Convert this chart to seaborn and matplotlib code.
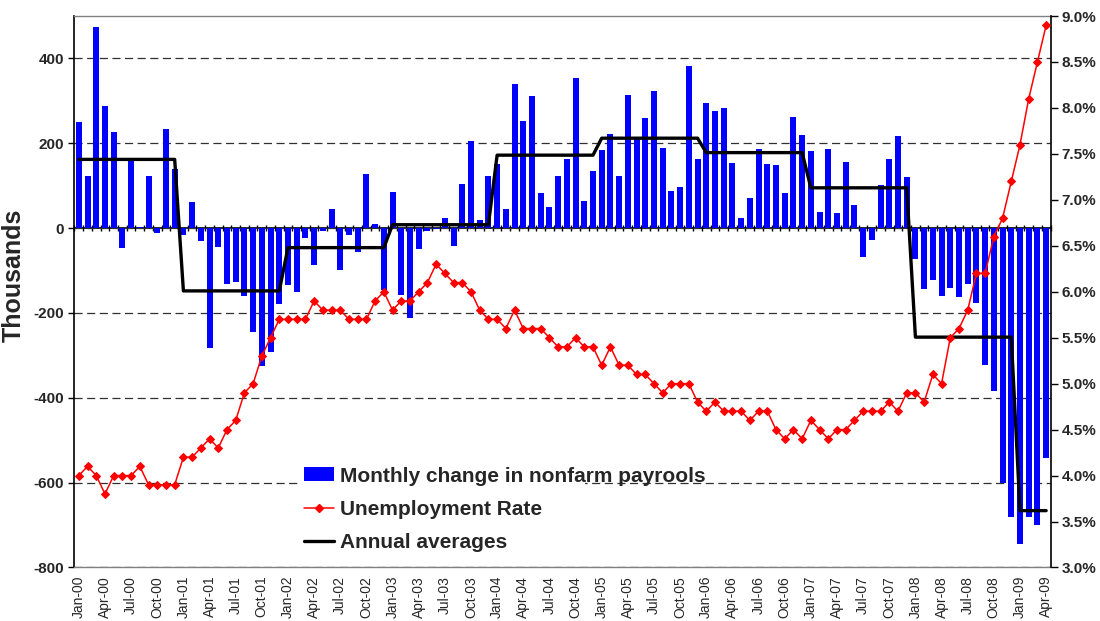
import numpy as np
import pandas as pd
import matplotlib
matplotlib.use('Agg')
import matplotlib.pyplot as plt
import seaborn as sns
from matplotlib.patches import Patch, Rectangle
from matplotlib.lines import Line2D
from matplotlib.ticker import FuncFormatter, MultipleLocator

# ---------------- data ----------------
month_names = ['Jan', 'Feb', 'Mar', 'Apr', 'May', 'Jun',
               'Jul', 'Aug', 'Sep', 'Oct', 'Nov', 'Dec']
years = ['00', '01', '02', '03', '04', '05', '06', '07', '08', '09']
months = [f'{m}-{y}' for y in years for m in month_names][:112]

payrolls_2000 = [249, 122, 474, 287, 226, -47, 161, 3, 122, -12, 233, 139]
payrolls_2001 = [-17, 61, -31, -283, -45, -131, -126, -161, -246, -325, -293, -180]
payrolls_2002 = [-133, -150, -24, -87, -7, 46, -99, -17, -57, 127, 9, -145]
payrolls_2003 = [84, -158, -213, -50, -7, -2, 25, -43, 103, 205, 18, 124]
payrolls_2004 = [150, 44, 339, 252, 311, 82, 49, 122, 162, 353, 65, 134]
payrolls_2005 = [183, 221, 122, 313, 211, 259, 323, 190, 87, 98, 382, 162]
payrolls_2006 = [294, 275, 283, 153, 25, 70, 186, 150, 148, 82, 261, 219]
payrolls_2007 = [181, 37, 186, 35, 157, 54, -67, -28, 101, 164, 216, 120]
payrolls_2008 = [-73, -144, -123, -161, -140, -163, -131, -177, -323, -383, -600, -682]
payrolls_2009 = [-744, -682, -701, -541]

unemp_2000 = [4.0, 4.1, 4.0, 3.8, 4.0, 4.0, 4.0, 4.1, 3.9, 3.9, 3.9, 3.9]
unemp_2001 = [4.2, 4.2, 4.3, 4.4, 4.3, 4.5, 4.6, 4.9, 5.0, 5.3, 5.5, 5.7]
unemp_2002 = [5.7, 5.7, 5.7, 5.9, 5.8, 5.8, 5.8, 5.7, 5.7, 5.7, 5.9, 6.0]
unemp_2003 = [5.8, 5.9, 5.9, 6.0, 6.1, 6.3, 6.2, 6.1, 6.1, 6.0, 5.8, 5.7]
unemp_2004 = [5.7, 5.6, 5.8, 5.6, 5.6, 5.6, 5.5, 5.4, 5.4, 5.5, 5.4, 5.4]
unemp_2005 = [5.2, 5.4, 5.2, 5.2, 5.1, 5.1, 5.0, 4.9, 5.0, 5.0, 5.0, 4.8]
unemp_2006 = [4.7, 4.8, 4.7, 4.7, 4.7, 4.6, 4.7, 4.7, 4.5, 4.4, 4.5, 4.4]
unemp_2007 = [4.6, 4.5, 4.4, 4.5, 4.5, 4.6, 4.7, 4.7, 4.7, 4.8, 4.7, 4.9]
unemp_2008 = [4.9, 4.8, 5.1, 5.0, 5.5, 5.6, 5.8, 6.2, 6.2, 6.6, 6.8, 7.2]
unemp_2009 = [7.6, 8.1, 8.5, 8.9]

annual_averages = [162, -148, -46, 8, 172, 212, 178, 95, -257, -666]
months_per_year = [12, 12, 12, 12, 12, 12, 12, 12, 12, 4]

legend_labels = ['Monthly change in nonfarm payrools',
                 'Unemployment Rate',
                 'Annual averages']

payrolls = (payrolls_2000 + payrolls_2001 + payrolls_2002 + payrolls_2003 +
            payrolls_2004 + payrolls_2005 + payrolls_2006 + payrolls_2007 +
            payrolls_2008 + payrolls_2009)
unemployment = (unemp_2000 + unemp_2001 + unemp_2002 + unemp_2003 +
                unemp_2004 + unemp_2005 + unemp_2006 + unemp_2007 +
                unemp_2008 + unemp_2009)
idx = np.arange(len(months))
df = pd.DataFrame({
    'pos': idx,
    'month': months,
    'payrolls': payrolls,
    'unemployment': unemployment,
    'annual': np.repeat(annual_averages, months_per_year),
})

# ---------------- style ----------------
sns.set_style('white')
plt.rcParams['font.family'] = ['Liberation Sans', 'DejaVu Sans']
plt.rcParams['axes.unicode_minus'] = False

BLUE = '#0000FF'
RED = '#FF0000'

fig = plt.figure(figsize=(11, 6.21), dpi=100)
ax = fig.add_axes([0.0673, 0.0862, 0.8877, 0.888])

sns.barplot(data=df, x='pos', y='payrolls', native_scale=True, color=BLUE,
            saturation=1, width=0.68, ax=ax, zorder=2, linewidth=0)
sns.lineplot(data=df, x='pos', y='annual', color='black', lw=2.4, ax=ax,
             zorder=3)

ymin, ymax = -800, 500
ax.set_xlim(-0.55, 111.5)
ax.set_ylim(ymin, ymax)
ax.yaxis.set_major_locator(MultipleLocator(200))
ax.yaxis.grid(True, linestyle=(0, (6.5, 3.6)), color='#303030', lw=0.9)
ax.set_axisbelow(True)
ax.tick_params(axis='y', direction='out', length=4, width=1, color='black',
               labelsize=11, pad=3, left=True)
for t in ax.get_yticklabels():
    t.set_fontweight('bold')
ax.set_ylabel('Thousands', fontsize=18, fontweight='bold')
ax.yaxis.set_label_coords(-0.049, 0.53)
ax.set_xlabel('')

ax.set_xticks(idx[::3])
ax.set_xticklabels(months[::3], rotation=90, fontsize=10)
ax.tick_params(axis='x', length=0, pad=6)

for side in ['top', 'bottom']:
    ax.spines[side].set_color('#808080')
    ax.spines[side].set_linewidth(1.0)
ax.spines['left'].set_color('black')
ax.spines['left'].set_linewidth(1.2)
ax.spines['right'].set_visible(False)

# white background block of the legend (hides part of a gridline)
ax.add_patch(Rectangle((0.2314, 0.03), 0.2919, 0.165, transform=ax.transAxes,
                       facecolor='white', edgecolor='none', zorder=1))

# zero axis line with category tick marks
zero_frac = (0 - ymin) / (ymax - ymin)
sec = ax.secondary_xaxis(zero_frac)
sec.set_xticks(np.arange(-0.5, len(months), 1))
sec.tick_params(direction='inout', length=5, width=1, color='black',
                labelbottom=False, labeltop=False)
for s in sec.spines.values():
    s.set_color('black')
    s.set_linewidth(1.2)

# unemployment rate on the right axis
ax2 = ax.twinx()
sns.lineplot(data=df, x='pos', y='unemployment', ax=ax2, color=RED, lw=1.1,
             marker='D', markersize=4.3, markeredgecolor=RED, zorder=4)
ax2.set_ylim(3, 9)
ax2.yaxis.set_major_locator(MultipleLocator(0.5))
ax2.yaxis.set_major_formatter(FuncFormatter(lambda v, p: f'{v:.1f}%'))
ax2.tick_params(axis='y', direction='out', length=5, width=1, color='black',
                labelsize=11, pad=3, right=True)
for t in ax2.get_yticklabels():
    t.set_fontweight('bold')
ax2.set_ylabel('')
ax2.grid(False)
for side in ['top', 'bottom', 'left']:
    ax2.spines[side].set_visible(False)
ax2.spines['right'].set_color('black')
ax2.spines['right'].set_linewidth(1.2)

handles = [
    Patch(facecolor=BLUE, edgecolor='none'),
    Line2D([], [], color=RED, lw=1.1, marker='D', markersize=4.3),
    Line2D([], [], color='black', lw=2.4),
]
leg = ax2.legend(handles, legend_labels, loc='upper left',
                 bbox_to_anchor=(0.2355, 0.183), frameon=False,
                 prop=dict(weight='bold', size=15), handlelength=1.45,
                 handleheight=0.63, handletextpad=0.3, labelspacing=0.68,
                 borderpad=0, borderaxespad=0)

fig.savefig('out.png', dpi=100)
